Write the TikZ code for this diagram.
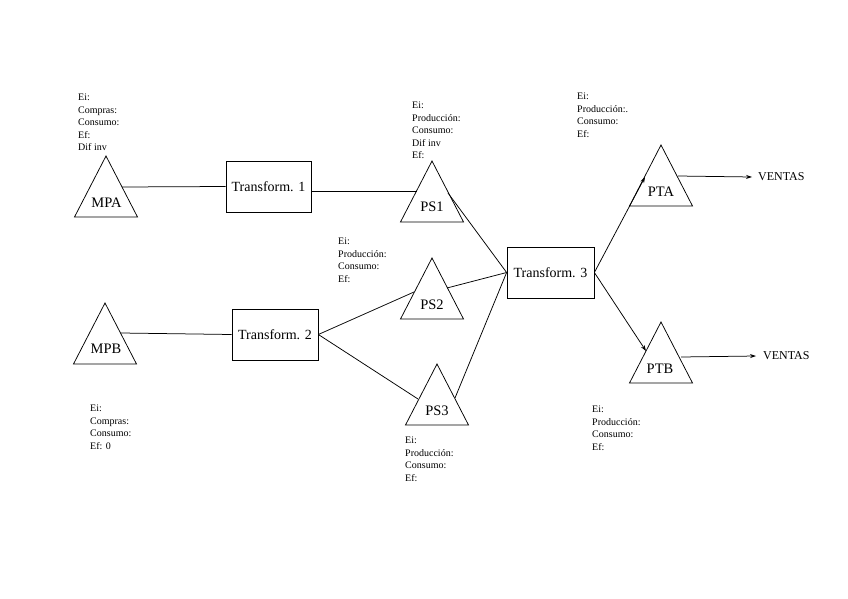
\documentclass[tikz,border=0pt]{standalone}
\usepackage{fontspec}
\setmainfont{Liberation Serif}
\usetikzlibrary{arrows.meta}
\newcommand{\trishape}[2]{\draw[trline] (#1,#2) -- ++(-31.5,61) -- ++(63,0) -- cycle;}
\begin{document}
\begin{tikzpicture}[x=1pt,y=-1pt,
  trline/.style={line width=0.75pt, line join=miter},
  conn/.style={line width=0.75pt},
  arr/.style={line width=0.75pt, -{Stealth[length=6pt,width=4pt]}},
  box/.style={draw, line width=0.75pt, minimum width=86pt, minimum height=51pt, inner sep=0pt, font=\fontsize{14}{16}\selectfont},
  big/.style={inner sep=0pt, font=\fontsize{14.5}{16}\selectfont},
  small/.style={inner sep=0pt, anchor=north west, align=left, font=\fontsize{10}{12.4}\selectfont},
  sales/.style={inner sep=0pt, anchor=west, font=\fontsize{12}{14}\selectfont}]
\useasboundingbox (0,0) rectangle (848,599);

% triangles
\trishape{106}{156}
\trishape{105}{303}
\trishape{432}{161}
\trishape{432}{258}
\trishape{437}{364}
\trishape{661}{145}
\trishape{661}{322}

% triangle labels
\node[big] (MPA) at (106.5,203) {MPA};
\node[big] (MPB) at (106,349) {MPB};
\node[big] (PS1) at (432,207) {PS1};
\node[big] (PS2) at (432,305) {PS2};
\node[big] (PS3) at (437,411) {PS3};
\node[big] (PTA) at (661,192) {PTA};
\node[big] (PTB) at (660,369) {PTB};

% boxes
\node[box, minimum width=85pt] (T1) at (268.5,186.5) {Transform. 1};
\node[box] (T2) at (275,334.5) {Transform. 2};
\node[box, minimum width=87pt] (T3) at (550.5,272.5) {Transform. 3};

% edge points on triangles
\coordinate (MPA-r) at (122,187);
\coordinate (MPB-r) at (121,333);
\coordinate (PS1-l) at (417,191);
\coordinate (PS1-r) at (448,193);
\coordinate (PS2-l) at (414,292);
\coordinate (PS2-r) at (447,288);
\coordinate (PS3-l) at (418,399);
\coordinate (PS3-r) at (455,398);
\coordinate (PTA-l) at (645,177);
\coordinate (PTA-r) at (678,176);
\coordinate (PTB-l) at (646,351);
\coordinate (PTB-r) at (681,357);

% sales labels
\node[sales] (V1) at (758,177) {VENTAS};
\node[sales] (V2) at (763,356) {VENTAS};

% connectors
\draw[conn] (MPA-r) -- (T1.west);
\draw[conn] (T1.east |- PS1-l) -- (PS1-l);
\draw[conn] (MPB-r) -- (T2.west);
\draw[conn] (T2.east) -- (PS2-l);
\draw[conn] (T2.east) -- (PS3-l);
\draw[conn] (PS1-r) -- (T3.west);
\draw[conn] (PS2-r) -- (T3.west);
\draw[conn] (PS3-r) -- (T3.west);
\draw[arr] (T3.east) -- (PTA-l);
\draw[arr] (T3.east) -- (PTB-l);
\draw[arr] (PTA-r) -- ([xshift=-6pt]V1.west);
\draw[arr] (PTB-r) -- ([xshift=-7pt]V2.west);

% inventory notes
\node[small] (nMPA) at (78,94) {Ei:\\Compras:\\Consumo:\\Ef:\\Dif inv};
\node[small] (nPS1) at (412,102) {Ei:\\Producción:\\Consumo:\\Dif inv\\Ef:};
\node[small] (nPTA) at (577,93) {Ei:\\Producción:.\\Consumo:\\Ef:};
\node[small] (nPS2) at (338,238) {Ei:\\Producción:\\Consumo:\\Ef:};
\node[small] (nMPB) at (90,405) {Ei:\\Compras:\\Consumo:\\Ef: 0};
\node[small] (nPS3) at (405,437) {Ei:\\Producción:\\Consumo:\\Ef:};
\node[small] (nPTB) at (592,406) {Ei:\\Producción:\\Consumo:\\Ef:};
\end{tikzpicture}
\end{document}
